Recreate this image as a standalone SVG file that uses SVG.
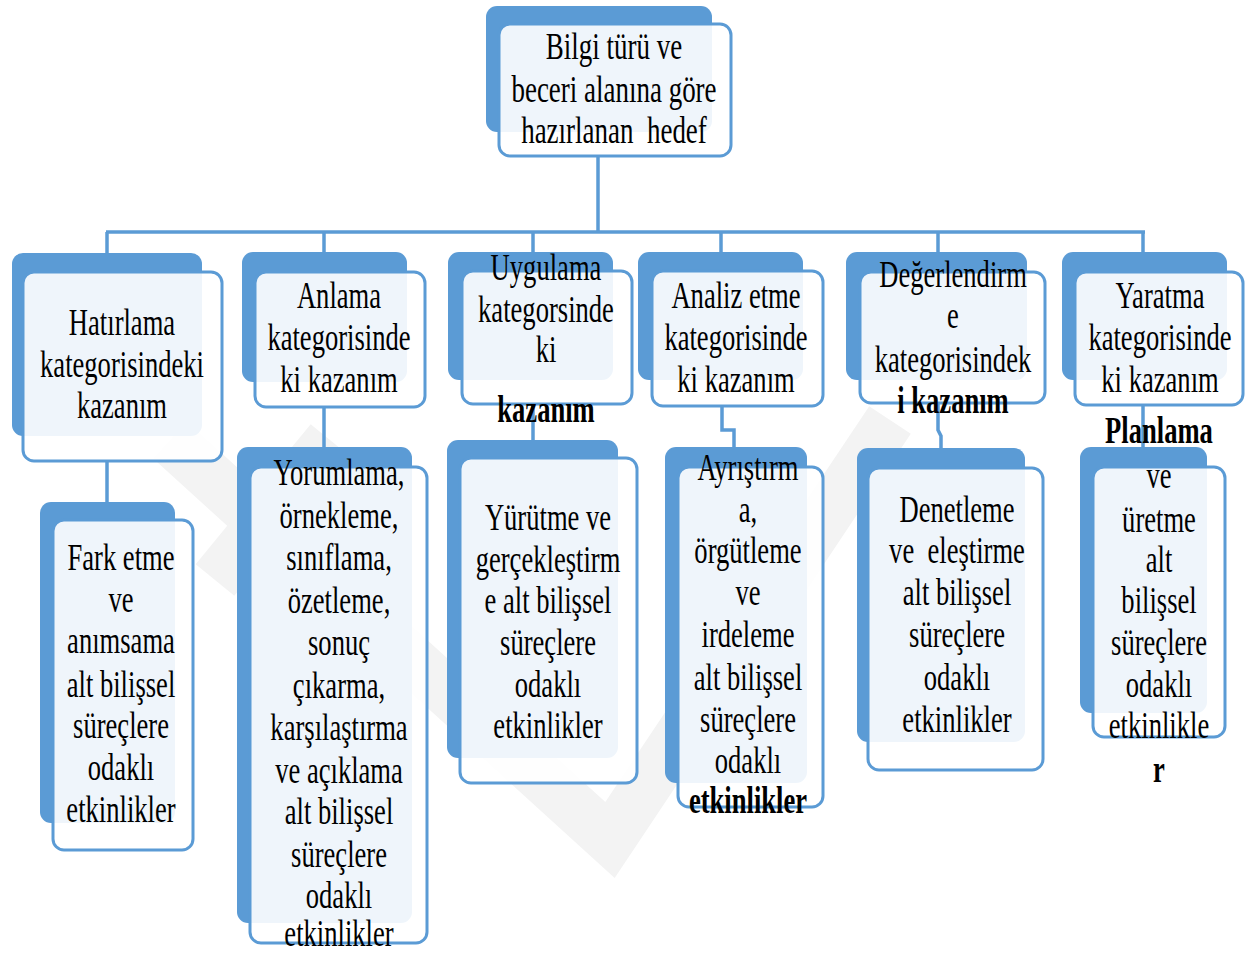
<svg xmlns="http://www.w3.org/2000/svg" width="1256" height="955" viewBox="0 0 1256 955">
<style>
.back{fill:#5b9bd5}
.front{fill:#ffffff;fill-opacity:0.9;stroke:#5b9bd5;stroke-width:3}
.conn{fill:none;stroke:#5b9bd5;stroke-width:3.5}
.t{font-family:"Liberation Serif","Times New Roman",serif;font-size:38px;fill:#000;text-anchor:middle}
.b{font-weight:bold}
.wm{fill:none;stroke:#f3f3f3;stroke-width:50;stroke-linecap:butt}
</style>
<rect width="1256" height="955" fill="#ffffff"/>
<g id="watermark">
<path class="wm" d="M170 440 L610 840 L890 420"/>
<path class="wm" d="M215 580 L330 440" stroke-width="40"/>
</g>
<g id="connectors">
<path class="conn" d="M598 157 V232"/>
<path class="conn" d="M106 232 H1145"/>
<path class="conn" d="M107 232 V255"/>
<path class="conn" d="M324 232 V252"/>
<path class="conn" d="M533 232 V252"/>
<path class="conn" d="M721 232 V252"/>
<path class="conn" d="M938 232 V252"/>
<path class="conn" d="M1143 232 V252"/>
<path class="conn" d="M107 462 V502"/>
<path class="conn" d="M324 407 V447"/>
<path class="conn" d="M533 403 V440"/>
<path class="conn" d="M722 407 V430 H734 V447"/>
<path class="conn" d="M938 403 V430 L941 436 V448"/>
<path class="conn" d="M1143 405 V447"/>
</g>
<g id="root">
<rect class="back" x="486" y="6" width="226" height="126" rx="11"/>
<rect class="front" x="499" y="24" width="232" height="132" rx="11"/>
<text class="t" xml:space="preserve" transform="matrix(0.71 0 0 1 614 0)"><tspan x="0" y="59">Bilgi türü ve</tspan><tspan x="0" y="102">beceri alanına göre</tspan><tspan x="0" y="143">hazırlanan  hedef</tspan></text>
</g>
<g id="hatirlama">
<rect class="back" x="12" y="253" width="190" height="183" rx="11"/>
<rect class="front" x="23" y="272" width="199" height="189" rx="11"/>
<text class="t" transform="matrix(0.7 0 0 1 122 0)"><tspan x="0" y="335">Hatırlama</tspan><tspan x="0" y="377">kategorisindeki</tspan><tspan x="0" y="418">kazanım</tspan></text>
</g>
<g id="anlama">
<rect class="back" x="242" y="252" width="165" height="130" rx="11"/>
<rect class="front" x="255" y="272" width="170" height="135" rx="11"/>
<text class="t" transform="matrix(0.7 0 0 1 339 0)"><tspan x="0" y="308">Anlama</tspan><tspan x="0" y="350">kategorisinde</tspan><tspan x="0" y="392">ki kazanım</tspan></text>
</g>
<g id="uygulama">
<rect class="back" x="448" y="252" width="165" height="128" rx="11"/>
<rect class="front" x="462" y="271" width="170" height="133" rx="11"/>
<text class="t" transform="matrix(0.7 0 0 1 546 0)"><tspan x="0" y="280">Uygulama</tspan><tspan x="0" y="322">kategorsinde</tspan><tspan x="0" y="362">ki</tspan><tspan x="0" y="422" class="b">kazanım</tspan></text>
</g>
<g id="analiz">
<rect class="back" x="638" y="252" width="165" height="128" rx="11"/>
<rect class="front" x="652" y="271" width="171" height="135" rx="11"/>
<text class="t" transform="matrix(0.7 0 0 1 736 0)"><tspan x="0" y="308">Analiz etme</tspan><tspan x="0" y="350">kategorisinde</tspan><tspan x="0" y="392">ki kazanım</tspan></text>
</g>
<g id="degerlendirme">
<rect class="back" x="846" y="252" width="181" height="128" rx="11"/>
<rect class="front" x="860" y="272" width="185" height="131" rx="11"/>
<text class="t" transform="matrix(0.7 0 0 1 953 0)"><tspan x="0" y="287">Değerlendirm</tspan><tspan x="0" y="328">e</tspan><tspan x="0" y="372">kategorisindek</tspan><tspan x="0" y="413" class="b">i kazanım</tspan></text>
</g>
<g id="yaratma">
<rect class="back" x="1062" y="252" width="165" height="128" rx="11"/>
<rect class="front" x="1075" y="272" width="168" height="133" rx="11"/>
<text class="t" transform="matrix(0.7 0 0 1 1160 0)"><tspan x="0" y="308">Yaratma</tspan><tspan x="0" y="350">kategorisinde</tspan><tspan x="0" y="392">ki kazanım</tspan></text>
</g>
<g id="fark">
<rect class="back" x="40" y="502" width="135" height="321" rx="11"/>
<rect class="front" x="53" y="520" width="140" height="330" rx="11"/>
<text class="t" transform="matrix(0.7 0 0 1 121 0)"><tspan x="0" y="570">Fark etme</tspan><tspan x="0" y="612">ve</tspan><tspan x="0" y="653">anımsama</tspan><tspan x="0" y="697">alt bilişsel</tspan><tspan x="0" y="738">süreçlere</tspan><tspan x="0" y="780">odaklı</tspan><tspan x="0" y="822">etkinlikler</tspan></text>
</g>
<g id="yorumlama">
<rect class="back" x="237" y="447" width="175" height="476" rx="11"/>
<rect class="front" x="250" y="467" width="177" height="476" rx="11"/>
<text class="t" transform="matrix(0.7 0 0 1 339 0)"><tspan x="0" y="485">Yorumlama,</tspan><tspan x="0" y="528">örnekleme,</tspan><tspan x="0" y="570">sınıflama,</tspan><tspan x="0" y="613">özetleme,</tspan><tspan x="0" y="655">sonuç</tspan><tspan x="0" y="698">çıkarma,</tspan><tspan x="0" y="740">karşılaştırma</tspan><tspan x="0" y="783">ve açıklama</tspan><tspan x="0" y="824">alt bilişsel</tspan><tspan x="0" y="867">süreçlere</tspan><tspan x="0" y="908">odaklı</tspan><tspan x="0" y="946">etkinlikler</tspan></text>
</g>
<g id="yurutme">
<rect class="back" x="447" y="440" width="171" height="318" rx="11"/>
<rect class="front" x="460" y="458" width="177" height="325" rx="11"/>
<text class="t" transform="matrix(0.7 0 0 1 548 0)"><tspan x="0" y="530">Yürütme ve</tspan><tspan x="0" y="572">gerçekleştirm</tspan><tspan x="0" y="613">e alt bilişsel</tspan><tspan x="0" y="655">süreçlere</tspan><tspan x="0" y="697">odaklı</tspan><tspan x="0" y="738">etkinlikler</tspan></text>
</g>
<g id="ayristirma">
<rect class="back" x="665" y="447" width="142" height="336" rx="11"/>
<rect class="front" x="678" y="467" width="145" height="340" rx="11"/>
<text class="t" transform="matrix(0.7 0 0 1 748 0)"><tspan x="0" y="480">Ayrıştırm</tspan><tspan x="0" y="522">a,</tspan><tspan x="0" y="563">örgütleme</tspan><tspan x="0" y="605">ve</tspan><tspan x="0" y="647">irdeleme</tspan><tspan x="0" y="690">alt bilişsel</tspan><tspan x="0" y="732">süreçlere</tspan><tspan x="0" y="773">odaklı</tspan><tspan x="0" y="813" class="b">etkinlikler</tspan></text>
</g>
<g id="denetleme">
<rect class="back" x="857" y="448" width="168" height="294" rx="11"/>
<rect class="front" x="868" y="468" width="175" height="302" rx="11"/>
<text class="t" xml:space="preserve" transform="matrix(0.7 0 0 1 957 0)"><tspan x="0" y="522">Denetleme</tspan><tspan x="0" y="563">ve  eleştirme</tspan><tspan x="0" y="605">alt bilişsel</tspan><tspan x="0" y="647">süreçlere</tspan><tspan x="0" y="690">odaklı</tspan><tspan x="0" y="732">etkinlikler</tspan></text>
</g>
<g id="planlama">
<rect class="back" x="1080" y="447" width="127" height="266" rx="11"/>
<rect class="front" x="1093" y="467" width="132" height="270" rx="11"/>
<text class="t" transform="matrix(0.7 0 0 1 1159 0)"><tspan x="0" y="443" class="b">Planlama</tspan><tspan x="0" y="488">ve</tspan><tspan x="0" y="532">üretme</tspan><tspan x="0" y="572">alt</tspan><tspan x="0" y="613">bilişsel</tspan><tspan x="0" y="655">süreçlere</tspan><tspan x="0" y="697">odaklı</tspan><tspan x="0" y="738">etkinlikle</tspan><tspan x="0" y="782" class="b">r</tspan></text>
</g>
</svg>
